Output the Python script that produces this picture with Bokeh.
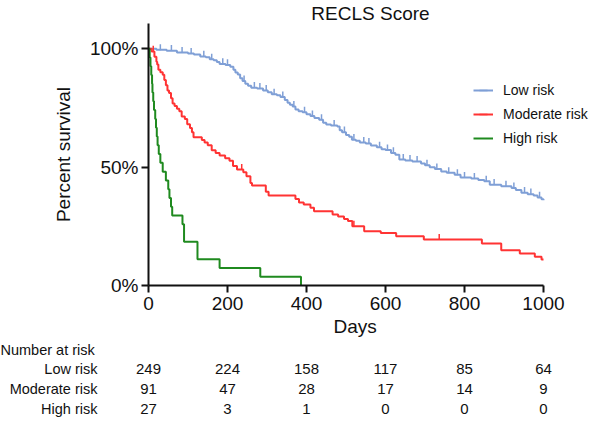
import numpy as np
from bokeh.plotting import figure
from bokeh.models import Range1d, Legend, LegendItem, FixedTicker, Title
from bokeh.core.properties import value
from bokeh.embed import file_html
from bokeh.resources import INLINE

# ---------------- data ----------------
low_days = [0, 20, 46, 72, 100, 115, 131, 145, 155, 165, 173, 180, 195, 207, 215, 220, 226, 232, 238, 245,
            252, 260, 275, 290, 302, 312, 325, 334, 345, 352, 358, 365, 372, 380, 390, 400, 410, 420, 432, 442,
            450, 462, 478, 484, 490, 500, 508, 515, 525, 535, 550, 563, 578, 590, 600, 614, 625, 635, 650, 668,
            690, 700, 712, 725, 741, 755, 775, 790, 817, 835, 850, 864, 893, 919, 930, 944, 960, 975, 985, 995, 1000]
low_surv = [100, 99.6, 99.2, 98.4, 98.0, 97.6, 96.8, 96.4, 95.6, 95.2, 94.4, 93.6, 93.2, 92.4, 91.2, 90.0, 89.2, 87.6, 86.4, 85.2,
            84.4, 83.6, 83.2, 82.4, 81.6, 80.8, 80.4, 79.6, 78.4, 77.2, 76.4, 75.6, 74.4, 73.6, 73.2, 72.4, 71.6, 70.8, 70.0, 68.8,
            68.0, 67.6, 67.2, 65.6, 64.8, 63.6, 62.8, 61.6, 61.2, 60.4, 60.0, 59.2, 58.4, 57.6, 57.2, 56.0, 55.2, 53.2, 52.8, 52.4,
            51.6, 50.8, 50.0, 49.2, 48.2, 47.6, 46.8, 45.6, 45.2, 44.6, 44.0, 42.6, 41.9, 41.2, 40.4, 39.2, 38.6, 38.0, 37.2, 36.4, 36.0]
low_censor = [30, 58, 85, 108, 140, 160, 188, 200, 242, 268, 282, 298, 318, 340, 368, 395, 415, 438, 470, 496,
              520, 545, 558, 585, 605, 620, 645, 662, 680, 705, 730, 760, 782, 800, 825, 855, 875, 905, 925, 952, 968, 990]

mod_days = [0, 8, 15, 20, 22, 25, 30, 36, 40, 44, 48, 52, 57, 61, 66, 72, 78, 84, 92, 98,
            105, 110, 114, 135, 142, 150, 160, 170, 180, 194, 205, 214, 224, 240, 248, 258, 262, 297, 304, 372,
            381, 393, 410, 419, 466, 480, 495, 505, 516, 546, 588, 627, 697, 844, 893, 940, 978, 995, 1000]
mod_surv = [100, 98.9, 96.7, 94.5, 93.4, 91.2, 90.1, 89.0, 86.8, 84.6, 82.4, 81.3, 79.1, 76.9, 75.8, 74.7, 73.6, 71.4, 70.3, 68.1,
            66.5, 64.8, 62.6, 61.5, 60.4, 59.3, 57.1, 56.0, 54.9, 53.8, 52.7, 50.5, 49.0, 47.9, 46.2, 43.3, 42.2, 39.6, 38.0, 36.5,
            35.1, 34.2, 32.8, 31.4, 30.0, 29.2, 28.1, 27.2, 25.0, 22.9, 22.2, 20.8, 19.4, 17.7, 14.9, 13.5, 12.1, 11.0, 11.0]
mod_censor = [12, 236, 520, 736]

high_days = [0, 3, 5, 7, 9, 10, 12, 14, 17, 19, 21, 23, 26, 30, 36, 44, 50, 53, 57, 60, 86, 90, 124, 180, 283, 386]
high_surv = [100, 96.3, 92.6, 88.9, 85.2, 81.5, 77.8, 74.1, 70.4, 66.7, 63.0, 59.3, 55.6, 51.9, 48.1, 44.4, 40.7, 37.0,
             33.3, 29.6, 25.9, 18.5, 11.1, 7.4, 3.7, 0.0]

groups = ["Low risk", "Moderate risk", "High risk"]
risk_days = [0, 200, 400, 600, 800, 1000]
low_at_risk = [249, 224, 158, 117, 85, 64]
mod_at_risk = [91, 47, 28, 17, 14, 9]
high_at_risk = [27, 3, 1, 0, 0, 0]

y_ticks = [0, 50, 100]
y_tick_labels = ["0%", "50%", "100%"]
x_ticks = [0, 200, 400, 600, 800, 1000]

# ---------------- styles / layout ----------------
FONT = "Liberation Sans"
INK = "#111111"
C_LOW = "#7f9fd6"
C_MOD = "#ff3333"
C_HIGH = "#1f8a1f"
PX_PER_DAY = 0.395
MAIN_LEFT = 148
MAIN_FRAME_W = 444
TBL_LEFT = 100
TBL_FRAME_W = 492


def censor_y(days, surv, cens):
    d = np.asarray(days)
    s = np.asarray(surv)
    idx = np.searchsorted(d, np.asarray(cens), side="right") - 1
    return s[idx]


p = figure(frame_width=MAIN_FRAME_W, frame_height=262,
           x_range=Range1d(0, MAIN_FRAME_W / PX_PER_DAY), y_range=Range1d(0, 110.7),
           output_backend="svg", toolbar_location=None, title="RECLS Score",
           min_border_left=MAIN_LEFT, min_border_right=0, min_border_top=0, min_border_bottom=0)
p.title.align = "center"
p.title.offset = -6
p.title.text_font = FONT
p.title.text_font_size = "19px"
p.title.text_font_style = "normal"
p.title.text_color = INK
p.title.standoff = 0
p.outline_line_color = None
p.grid.visible = False

for ax in (p.xaxis[0], p.yaxis[0]):
    ax.axis_line_width = 2
    ax.axis_line_color = INK
    ax.major_tick_line_width = 2
    ax.major_tick_line_color = INK
    ax.major_tick_out = 7
    ax.major_tick_in = 0
    ax.minor_tick_line_color = None
    ax.major_label_text_font = FONT
    ax.major_label_text_font_size = "19px"
    ax.major_label_text_color = INK
    ax.axis_label_text_font = FONT
    ax.axis_label_text_font_size = "19px"
    ax.axis_label_text_font_style = "normal"
    ax.axis_label_text_color = INK

p.yaxis.ticker = FixedTicker(ticks=y_ticks)
p.yaxis.major_label_overrides = {t: l for t, l in zip(y_ticks, y_tick_labels)}
p.yaxis.major_label_standoff = 3
p.yaxis.axis_label = "Percent survival"
p.yaxis.axis_label_standoff = 13
p.xaxis.ticker = FixedTicker(ticks=x_ticks)
p.xaxis.bounds = (x_ticks[0], x_ticks[-1])
p.xaxis.major_label_standoff = 4

# x-axis title, centred under the 0..1000 axis span (not under the wider frame)
p.add_layout(Title(text="Days", align="left", offset=185, standoff=3, text_font=FONT,
                   text_font_size="19px", text_font_style="normal", text_color=INK), "below")

r_low = p.step(low_days, low_surv, mode="after", line_color=C_LOW, line_width=2)
r_mod = p.step(mod_days, mod_surv, mode="after", line_color=C_MOD, line_width=2)
r_high = p.step(high_days, high_surv, mode="after", line_color=C_HIGH, line_width=2)

s_low = p.scatter(low_censor, censor_y(low_days, low_surv, low_censor) + 1.1, marker="dash", angle=np.pi / 2,
                  size=6, line_color=C_LOW, line_width=1.5)
s_mod = p.scatter(mod_censor, censor_y(mod_days, mod_surv, mod_censor) + 1.1, marker="dash", angle=np.pi / 2,
                  size=6, line_color=C_MOD, line_width=1.5)
s_high = p.scatter(x=[], y=[], marker="dash", angle=np.pi / 2, size=6, line_color=C_HIGH, line_width=1.5)

legend = Legend(items=[LegendItem(label=groups[0], renderers=[r_low, s_low]),
                       LegendItem(label=groups[1], renderers=[r_mod, s_mod]),
                       LegendItem(label=groups[2], renderers=[r_high, s_high])],
                location=(325, 137), padding=0, margin=0, border_line_color=None,
                background_fill_alpha=0, glyph_width=20, glyph_height=20, label_height=20,
                spacing=4, label_standoff=10, label_text_font=FONT, label_text_font_size="14px",
                label_text_color=INK)
p.add_layout(legend)

# ---------------- number at risk table (separate root) ----------------
tx0 = -(MAIN_LEFT - TBL_LEFT) / PX_PER_DAY
t = figure(frame_width=TBL_FRAME_W, frame_height=59,
           x_range=Range1d(tx0, tx0 + TBL_FRAME_W / PX_PER_DAY), y_range=Range1d(-0.45, 2.5),
           output_backend="svg", toolbar_location=None, title="Number at risk",
           min_border_left=TBL_LEFT, min_border_right=0, min_border_top=0, min_border_bottom=0)
t.title.align = "left"
t.title.offset = -TBL_LEFT
t.title.text_font = FONT
t.title.text_font_size = "14.5px"
t.title.text_font_style = "normal"
t.title.text_color = INK
t.title.standoff = 2
t.outline_line_color = None
t.grid.visible = False
t.xaxis.visible = False

row_pos = [2, 1, 0]
all_counts = [low_at_risk, mod_at_risk, high_at_risk]
t.yaxis.ticker = FixedTicker(ticks=row_pos)
t.yaxis.major_label_overrides = {r: g for r, g in zip(row_pos, groups)}
t.yaxis.axis_line_color = None
t.yaxis.major_tick_line_color = None
t.yaxis.minor_tick_line_color = None
t.yaxis.major_tick_out = 0
t.yaxis.major_tick_in = 0
t.yaxis.major_label_standoff = 3
t.yaxis.major_label_text_font = FONT
t.yaxis.major_label_text_font_size = "14.5px"
t.yaxis.major_label_text_color = INK

tx, ty, tt = [], [], []
for r, counts in zip(row_pos, all_counts):
    for d, n in zip(risk_days, counts):
        tx.append(d)
        ty.append(r)
        tt.append(str(n))
t.text(x=tx, y=ty, text=tt, text_align="center", text_baseline="middle",
       text_font=value(FONT), text_font_size="15px", text_color=INK)

open("out.html", "w").write(file_html([p, t], INLINE))
